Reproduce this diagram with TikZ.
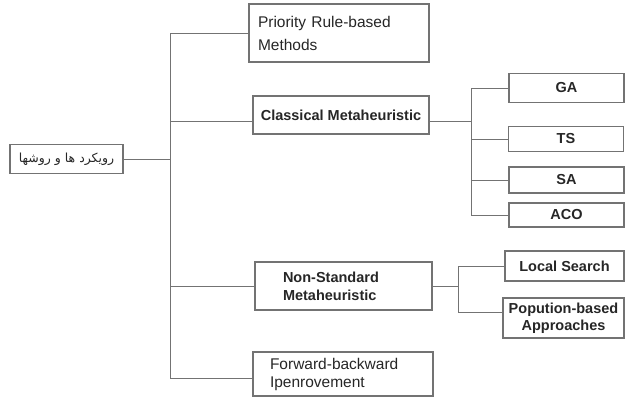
\documentclass[tikz,border=0pt]{standalone}
\usepackage{fontspec}
\setmainfont{Liberation Sans}
\newfontfamily\arabicfont[Script=Arabic]{DejaVu Sans}
\TeXXeTstate=1
\usetikzlibrary{calc}
\begin{document}
\begin{tikzpicture}[x=1pt,y=-1pt,
  box/.style={draw=black!55, line width=1.1pt, rectangle, inner sep=0pt,
    font=\fontsize{14.5}{18}\selectfont\bfseries, text=black!85},
  conn/.style={draw=black!55, line width=0.9pt}]
\useasboundingbox (0,0) rectangle (625,397);
% nodes
\node[box, minimum width=113pt, minimum height=29pt, font=\arabicfont\fontsize{12.5}{14}\selectfont] (root) at (66.5,159) {\beginR رویکرد ها و روشها\endR};
\node[box, font=\fontsize{15.5}{23}\selectfont, text width=162pt, inner xsep=9pt, align=left, minimum height=58pt] (prio) at (339,33) {Priority Rule-based\\Methods};
\node[box, minimum width=176pt, minimum height=38pt] (cls) at (341,115) {Classical Metaheuristic};
\node[box, minimum width=115pt, minimum height=29pt] (ga) at (566.5,88) {GA};
\node[box, minimum width=115pt, minimum height=25pt] (ts) at (566,139) {TS};
\node[box, minimum width=115pt, minimum height=26pt] (sa) at (566.5,180) {SA};
\node[box, minimum width=115pt, minimum height=24pt] (aco) at (566.5,215) {ACO};
\node[box, text width=121pt, inner xsep=28pt, align=left, minimum height=48pt] (nsm) at (343.5,286) {Non-Standard\\Metaheuristic};
\node[box, minimum width=119pt, minimum height=30pt] (ls) at (564.5,266) {Local Search};
\node[box, minimum width=121pt, minimum height=40pt, align=center, font=\fontsize{14.5}{17}\selectfont\bfseries] (pop) at (563.5,318) {Popution-based\\Approaches};
\node[box, font=\fontsize{15.5}{18}\selectfont, text width=146pt, inner xsep=17pt, align=left, minimum height=44pt] (fb) at (343,374) {Forward-backward\\Ipenrovement};
% main trunk
\coordinate (t1) at (170,33);
\coordinate (t2) at (170,121);
\coordinate (t0) at (170,159);
\coordinate (t3) at (170,286);
\coordinate (t4) at (170,378);
\draw[conn] (t1) -- (t4);
\draw[conn] (root.east) -- (t0);
\draw[conn] (t1) -- (prio.west);
\draw[conn] (t2) -- (t2 -| cls.west);
\draw[conn] (t3) -- (nsm.west);
\draw[conn] (t4) -- (t4 -| fb.west);
% classical subtree
\coordinate (c0) at (471,121);
\coordinate (c1) at (471,88);
\coordinate (c2) at (471,139);
\coordinate (c3) at (471,180);
\coordinate (c4) at (471,215);
\draw[conn] (c0 -| cls.east) -- (c0);
\draw[conn] (c1) -- (c4);
\draw[conn] (c1) -- (ga.west);
\draw[conn] (c2) -- (ts.west);
\draw[conn] (c3) -- (sa.west);
\draw[conn] (c4) -- (aco.west);
% non-standard subtree
\coordinate (n0) at (458,286);
\coordinate (n1) at (458,266);
\coordinate (n2) at (458,312);
\draw[conn] (nsm.east) -- (n0);
\draw[conn] (n1) -- (n2);
\draw[conn] (n1) -- (ls.west);
\draw[conn] (n2) -- (n2 -| pop.west);
\end{tikzpicture}
\end{document}
